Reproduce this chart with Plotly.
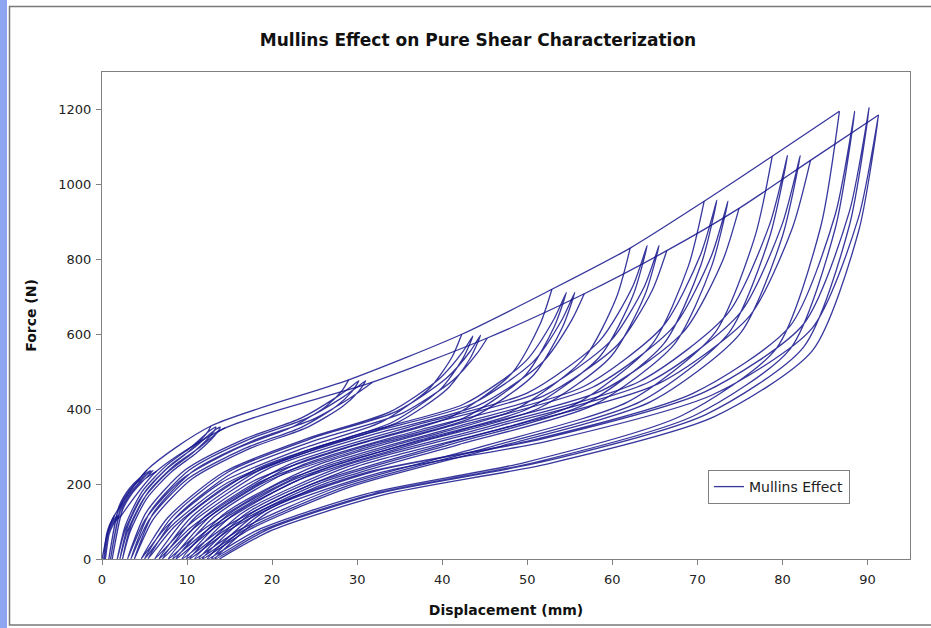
import plotly.graph_objects as go

# ---------------- data ----------------
# Each level: cycles at one maximum displacement (unload -> reload -> ...)
L1_d = [1.5, 1.175, 0.85, 0.525, 0.2, 0.6, 1.0, 1.4, 1.8, 1.425, 1.05, 0.675, 0.3, 0.725, 1.15, 1.575, 2.0,
        1.6, 1.2, 0.8, 0.4, 0.85, 1.3, 1.75, 2.2]
L1_f = [118, 104, 89, 65, 0, 70, 93, 107, 116, 102, 87, 64, 0, 70, 93, 107, 116,
        102, 87, 64, 0, 68, 91, 105, 114]

L2_d = [5.3, 4.175, 3.05, 1.925, 0.8, 2.025, 3.25, 4.475, 5.7, 4.525, 3.35, 2.175, 1.0, 2.25, 3.5, 4.75, 6.0,
        4.8, 3.6, 2.4, 1.2, 2.5, 3.8, 5.1, 6.4]
L2_f = [238, 209, 179, 131, 0, 142, 189, 217, 236, 208, 177, 130, 0, 142, 189, 217, 236,
        208, 177, 130, 0, 140, 187, 215, 234]

L3_d = [12.8, 12.47, 11.7, 10.05, 7.3, 4.55, 2.68, 1.8,
        2.73, 4.7, 7.6, 10.5, 12.24, 13.05, 13.4,
        13.06, 12.27, 10.58, 7.75, 4.93, 3.0, 2.1,
        3.04, 5.05, 8.0, 10.95, 12.72, 13.55, 13.9,
        13.56, 12.75, 11.03, 8.15, 5.28, 3.32, 2.4,
        3.37, 5.43, 8.45, 11.48, 13.29, 14.14, 14.5]
L3_f = [355, 340.8, 319.5, 284, 234.3, 163.3, 74.6, 0,
        88, 179.5, 249.9, 299.2, 334.4, 348.5, 352,
        337.9, 316.8, 281.6, 232.3, 161.9, 73.9, 0,
        88, 179.5, 249.9, 299.2, 334.4, 348.5, 352,
        337.9, 316.8, 281.6, 232.3, 161.9, 73.9, 0,
        87.5, 178.5, 248.5, 297.5, 332.5, 346.5, 350]

L4_d = [29.0, 28.22, 26.4, 22.5, 16.0, 9.5, 5.08, 3.0,
        5.18, 9.8, 16.6, 23.4, 27.48, 29.38, 30.2,
        29.4, 27.52, 23.5, 16.8, 10.1, 5.54, 3.4,
        5.61, 10.3, 17.2, 24.1, 28.24, 30.17, 31.0,
        30.18, 28.28, 24.2, 17.4, 10.6, 5.98, 3.8,
        6.04, 10.8, 17.8, 24.8, 29.0, 30.96, 31.8]
L4_f = [478, 449.3, 408.7, 353.7, 296.4, 215.1, 105.2, 0,
        123.8, 238, 318.9, 376, 430.8, 461.7, 476,
        447.4, 407, 352.2, 295.1, 214.2, 104.7, 0,
        123.8, 238, 318.9, 376, 430.8, 461.7, 476,
        447.4, 407, 352.2, 295.1, 214.2, 104.7, 0,
        122.7, 236, 316.2, 372.9, 427.2, 457.8, 472]

L5_d = [42.3, 41.17, 38.53, 32.88, 23.45, 14.03, 7.62, 4.6,
        7.72, 14.35, 24.1, 33.85, 39.7, 42.43, 43.6,
        42.44, 39.74, 33.95, 24.3, 14.65, 8.09, 5.0,
        8.16, 14.88, 24.75, 34.63, 40.55, 43.32, 44.5,
        43.33, 40.59, 34.73, 24.95, 15.18, 8.53, 5.4,
        8.59, 15.38, 25.35, 35.33, 41.31, 44.1, 45.3]
L5_f = [600, 540, 456, 366, 294, 204, 87, 0,
        110.1, 232.1, 321.3, 392.7, 482, 553.4, 595,
        535.5, 452.2, 363, 291.6, 202.3, 86.3, 0,
        110.4, 232.8, 322.4, 394, 483.6, 555.2, 597,
        537.3, 453.7, 364.2, 292.5, 203, 86.6, 0,
        109.2, 230.1, 318.6, 389.4, 477.9, 548.7, 590]

L6_d = [52.9, 51.5, 48.23, 41.23, 29.55, 17.88, 9.94, 6.2,
        10.07, 18.3, 30.4, 42.5, 49.76, 53.15, 54.6,
        53.16, 49.81, 42.63, 30.65, 18.68, 10.53, 6.7,
        10.61, 18.93, 31.15, 43.38, 50.71, 54.13, 55.6,
        54.15, 50.75, 43.48, 31.35, 19.23, 10.98, 7.1,
        11.07, 19.5, 31.9, 44.3, 51.74, 55.21, 56.7]
L6_f = [720, 626.4, 496.8, 381.6, 302.4, 208.8, 86.4, 0,
        113.9, 242.1, 334.6, 413, 526.9, 640.8, 712,
        619.4, 491.3, 377.4, 299, 206.5, 85.4, 0,
        113.9, 242.1, 334.6, 413, 526.9, 640.8, 712,
        619.4, 491.3, 377.4, 299, 206.5, 85.4, 0,
        113.3, 240.7, 332.8, 410.6, 523.9, 637.2, 708]

L7_d = [62.1, 60.47, 56.67, 48.53, 34.95, 21.38, 12.14, 7.8,
        12.3, 21.88, 35.95, 50.03, 58.47, 62.41, 64.1,
        62.43, 58.52, 50.15, 36.2, 22.25, 12.76, 8.3,
        12.88, 22.6, 36.9, 51.2, 59.78, 63.78, 65.5,
        63.8, 59.82, 51.3, 37.1, 22.9, 13.24, 8.7,
        13.32, 23.13, 37.55, 51.98, 60.63, 64.67, 66.4]
L7_f = [830, 697.2, 535.4, 398.4, 307.1, 207.5, 83, 0,
        117.2, 251.1, 351.5, 443.6, 581.7, 728.2, 837,
        703.1, 539.9, 401.8, 309.7, 209.3, 83.7, 0,
        117.2, 251.1, 351.5, 443.6, 581.7, 728.2, 837,
        703.1, 539.9, 401.8, 309.7, 209.3, 83.7, 0,
        115.2, 246.9, 345.7, 436.2, 572, 716, 823]

L8_d = [70.8, 68.96, 64.66, 55.45, 40.1, 24.75, 14.31, 9.4,
        14.43, 25.13, 40.85, 56.58, 66.01, 70.41, 72.3,
        70.43, 66.06, 56.7, 41.1, 25.5, 14.89, 9.9,
        15.0, 25.83, 41.75, 57.68, 67.23, 71.69, 73.6,
        71.7, 67.27, 57.78, 41.95, 26.13, 15.36, 10.3,
        15.47, 26.45, 42.6, 58.75, 68.44, 72.96, 74.9]
L8_f = [955, 783.1, 573, 410.7, 305.6, 200.6, 83.1, 0,
        121.7, 249.1, 354.5, 459.8, 622.7, 814.3, 958,
        785.6, 574.8, 411.9, 306.6, 201.2, 83.3, 0,
        121.3, 248.3, 353.4, 458.4, 620.8, 811.8, 955,
        783.1, 573, 410.7, 305.6, 200.6, 83.1, 0,
        118.9, 243.4, 346.3, 449.3, 608.4, 795.6, 936]

L9_d = [78.8, 76.76, 72.01, 61.83, 44.85, 27.88, 16.33, 10.9,
        16.48, 28.33, 45.75, 63.18, 73.63, 78.51, 80.6,
        78.52, 73.68, 63.3, 46.0, 28.7, 16.94, 11.4,
        17.06, 29.08, 46.75, 64.43, 75.03, 79.98, 82.1,
        80.0, 75.07, 64.53, 46.95, 29.38, 17.42, 11.8,
        17.52, 29.68, 47.55, 65.43, 76.15, 81.16, 83.3]
L9_f = [1075, 860, 602, 419.3, 301, 193.5, 79.6, 0,
        122.8, 247.7, 355.4, 473.9, 657, 893.9, 1077,
        861.6, 603.1, 420, 301.6, 193.9, 79.7, 0,
        122.8, 247.7, 355.4, 473.9, 657, 893.9, 1077,
        861.6, 603.1, 420, 301.6, 193.9, 79.7, 0,
        121.3, 244.7, 351.1, 468.2, 649, 883.1, 1064]

L10_d = [86.7, 84.47, 79.27, 68.13, 49.55, 30.98, 18.34, 12.4,
         18.49, 31.43, 50.45, 69.48, 80.89, 86.22, 88.5,
         86.23, 80.94, 69.6, 50.7, 31.8, 18.95, 12.9,
         19.08, 32.23, 51.55, 70.88, 82.47, 87.88, 90.2,
         87.89, 82.51, 70.98, 51.75, 32.42, 19.45, 13.3,
         19.54, 32.8, 52.3, 71.8, 83.5, 88.96, 91.3,
         88.98, 83.55, 71.93, 52.55, 33.18, 20.0, 13.8]
L10_f = [1195, 884.3, 561.7, 382.4, 256.9, 173.3, 77.7, 0,
         125.5, 233, 316.7, 442.2, 621.4, 920.2, 1195,
         884.3, 561.7, 382.4, 256.9, 173.3, 77.7, 0,
         126.5, 235, 319.3, 445.9, 626.6, 927.9, 1205,
         891.7, 566.4, 385.6, 259.1, 174.7, 78.3, 0,
         124.4, 231.1, 314, 438.5, 616.2, 912.5, 1185,
         876.9, 557, 379.2, 254.8, 171.8, 77, 0]

# loading envelopes joining the first and the last peaks of each level
upper_d = [0, 0.5, 1.0, 1.5, 5.3, 12.8, 29.0, 42.3, 52.9, 62.1, 70.8, 78.8, 86.7]
upper_f = [0, 55, 95, 118, 238, 355, 478, 600, 720, 830, 955, 1075, 1195]
lower_d = [2.2, 6.4, 14.5, 31.8, 45.3, 56.7, 66.4, 74.9, 83.3, 91.3]
lower_f = [114, 234, 350, 472, 590, 708, 823, 936, 1064, 1185]

x_ticks = [0, 10, 20, 30, 40, 50, 60, 70, 80, 90]
y_ticks = [0, 200, 400, 600, 800, 1000, 1200]

# ---------------- build one continuous series (gaps between pieces) ----------------
pieces = [(L1_d, L1_f), (L2_d, L2_f), (L3_d, L3_f), (L4_d, L4_f), (L5_d, L5_f),
          (L6_d, L6_f), (L7_d, L7_f), (L8_d, L8_f), (L9_d, L9_f), (L10_d, L10_f),
          (upper_d, upper_f), (lower_d, lower_f)]
xs, ys = [], []
for d, f in pieces:
    xs += list(d) + [None]
    ys += list(f) + [None]

FONT = "DejaVu Sans, Verdana, sans-serif"
fig = go.Figure()
fig.add_trace(go.Scatter(
    x=xs, y=ys, mode="lines", name="Mullins Effect",
    line=dict(color="rgba(20,20,140,0.85)", width=1.3, shape="spline", smoothing=0.7),
    connectgaps=False, showlegend=True,
))

L, R, T, B = 102, 21, 72, 69
W, H = 931, 628
pw, ph = W - L - R, H - T - B
def px(xp):
    return (xp - L) / pw
def py(yp):
    return (H - B - yp) / ph

fig.update_layout(
    width=W, height=H,
    margin=dict(l=L, r=R, t=T, b=B),
    paper_bgcolor="white", plot_bgcolor="white",
    font=dict(family=FONT, size=13, color="#222222"),
    title=dict(text="<b>Mullins Effect on Pure Shear Characterization</b>",
               x=478 / W, xref="container", xanchor="center",
               y=1 - 40 / H, yref="container", yanchor="middle",
               font=dict(family=FONT, size=17, color="#111111")),
    xaxis=dict(range=[0, 95], tickvals=x_ticks, ticks="outside", ticklen=5,
               tickcolor="#808080", showline=True, linecolor="#808080", linewidth=1,
               mirror=True, showgrid=False, zeroline=False, ticklabelstandoff=3,
               tickfont=dict(family=FONT, size=13, color="#222222"),
               title=dict(text="<b>Displacement (mm)</b>", standoff=19,
                          font=dict(family=FONT, size=14, color="#111111"))),
    yaxis=dict(range=[0, 1300], tickvals=y_ticks, ticks="outside", ticklen=5,
               tickcolor="#808080", showline=True, linecolor="#808080", linewidth=1,
               mirror=True, showgrid=False, zeroline=False, ticklabelstandoff=2,
               tickfont=dict(family=FONT, size=13, color="#222222"),
               title=dict(text="<b>Force (N)</b>", standoff=18,
                          font=dict(family=FONT, size=14, color="#111111"))),
    legend=dict(x=px(708), y=py(487), xanchor="left", yanchor="middle",
                bgcolor="white", bordercolor="#808080", borderwidth=1,
                font=dict(family=FONT, size=14, color="#222222")),
    shapes=[
        dict(type="rect", xref="paper", yref="paper", layer="below",
             x0=px(0), x1=px(7), y0=py(H + 2), y1=py(-2),
             fillcolor="#8ea6f2", line=dict(width=0)),
        dict(type="rect", xref="paper", yref="paper", layer="below",
             x0=px(9.5), x1=px(W + 5), y0=py(625), y1=py(6.5),
             fillcolor="rgba(0,0,0,0)", line=dict(color="#7a7a7a", width=1.5)),
    ],
)

fig.write_html("out.html")
